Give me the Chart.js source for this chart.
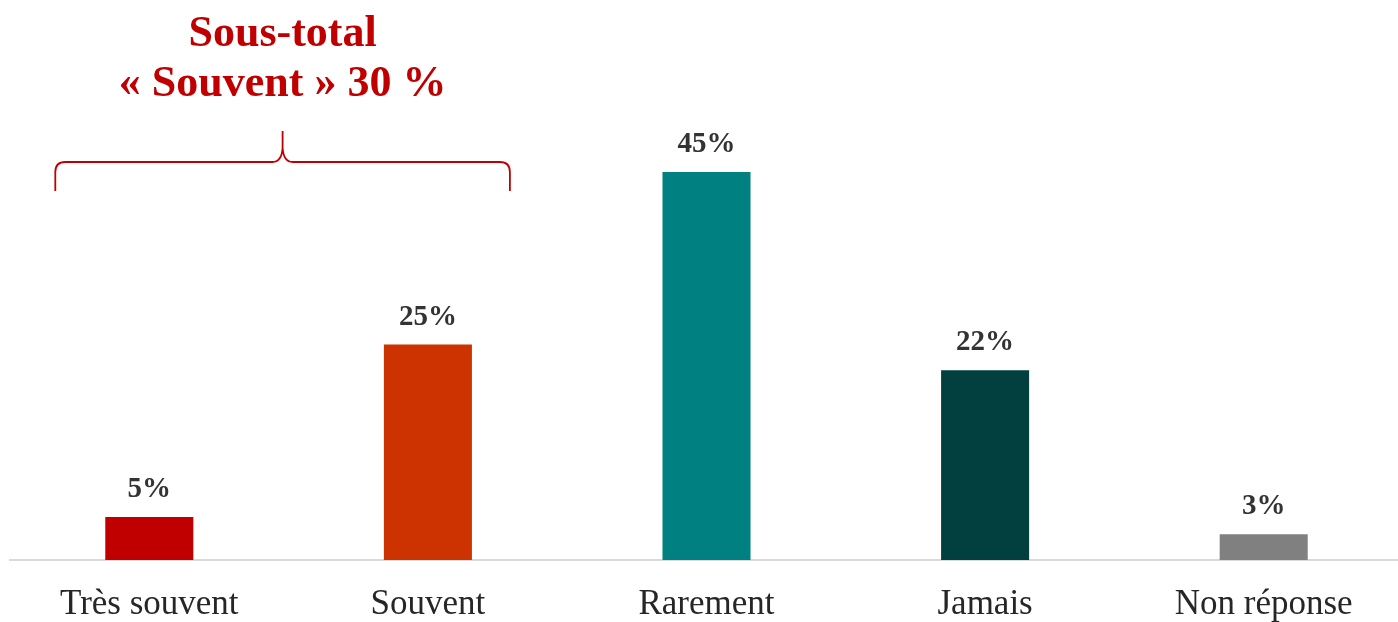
<!DOCTYPE html>
<html>
<head>
<meta charset="utf-8">
<script src="https://cdn.jsdelivr.net/npm/chart.js@4"></script>
<style>
  html, body { margin: 0; padding: 0; background: #fff; overflow: hidden; }
  #wrap { width: 1403px; height: 622px; position: relative; }
</style>
</head>
<body>
<div id="wrap"><canvas id="grafico"></canvas></div>
<script>
let categories = ["Très souvent", "Souvent", "Rarement", "Jamais", "Non réponse"];
let values = [5, 25, 45, 22, 3];
let colors = ["#C00000", "#CC3300", "#008080", "#023F3F", "#808080"];
let sousTotalLines = ["Sous-total", "« Souvent » 30 %"];

const serif = "'Liberation Serif', 'Times New Roman', serif";

// valeurs au-dessus des barres
const labelsPlugin = {
  id: "labels",
  afterDatasetsDraw(chart) {
    let ctx = chart.ctx;
    let meta = chart.getDatasetMeta(0);
    ctx.save();
    ctx.font = "bold 29px " + serif;
    ctx.fillStyle = "#333333";
    ctx.textAlign = "center";
    ctx.textBaseline = "alphabetic";
    meta.data.forEach((bar, i) => {
      ctx.fillText(values[i] + "%", bar.x, bar.y - 20);
    });
    ctx.restore();
  }
};

// accolade + sous-total
const braceePlugin = {
  id: "brace",
  afterDraw(chart) {
    let ctx = chart.ctx;
    let x = chart.scales.x;
    let top = chart.chartArea.top;
    let L = x.getPixelForValue(0) - 94;
    let R = x.getPixelForValue(1) + 82;
    let M = (L + R) / 2;
    let yEnd = top + 62, yH = top + 33, yTip = top + 2;

    ctx.save();
    ctx.strokeStyle = "#C00000";
    ctx.lineWidth = 1.8;
    ctx.beginPath();
    ctx.moveTo(L, yEnd);
    ctx.lineTo(L, yH + 10);
    ctx.quadraticCurveTo(L, yH, L + 10, yH);
    ctx.lineTo(M - 10, yH);
    ctx.quadraticCurveTo(M - 1, yH, M, yH - 14);
    ctx.lineTo(M, yTip);
    ctx.moveTo(M, yH - 14);
    ctx.quadraticCurveTo(M + 1, yH, M + 10, yH);
    ctx.lineTo(R - 10, yH);
    ctx.quadraticCurveTo(R, yH, R, yH + 10);
    ctx.lineTo(R, yEnd);
    ctx.stroke();

    ctx.fillStyle = "#C00000";
    ctx.font = "bold 44px " + serif;
    ctx.textAlign = "center";
    ctx.textBaseline = "alphabetic";
    ctx.fillText(sousTotalLines[0], M, 46);
    ctx.fillText(sousTotalLines[1], M, 96);
    ctx.restore();
  }
};

new Chart(document.getElementById("grafico"), {
  type: "bar",
  data: {
    labels: categories,
    datasets: [{
      data: values,
      backgroundColor: colors,
      barPercentage: 0.316,
      categoryPercentage: 1
    }]
  },
  options: {
    responsive: true,
    maintainAspectRatio: false,
    animation: false,
    layout: { padding: { top: 129, left: 10, right: 0, bottom: 0 } },
    plugins: {
      legend: { display: false },
      tooltip: { enabled: false }
    },
    scales: {
      x: {
        grid: { display: false, drawTicks: false },
        border: { display: true, color: "#D9D9D9", width: 2 },
        ticks: {
          color: "#262626",
          font: { family: serif, size: 35 },
          padding: 24
        },
        afterFit(scale) { scale.height = 62; }
      },
      y: {
        display: false,
        min: 0,
        max: 50
      }
    }
  },
  plugins: [labelsPlugin, braceePlugin]
});
</script>
</body>
</html>
